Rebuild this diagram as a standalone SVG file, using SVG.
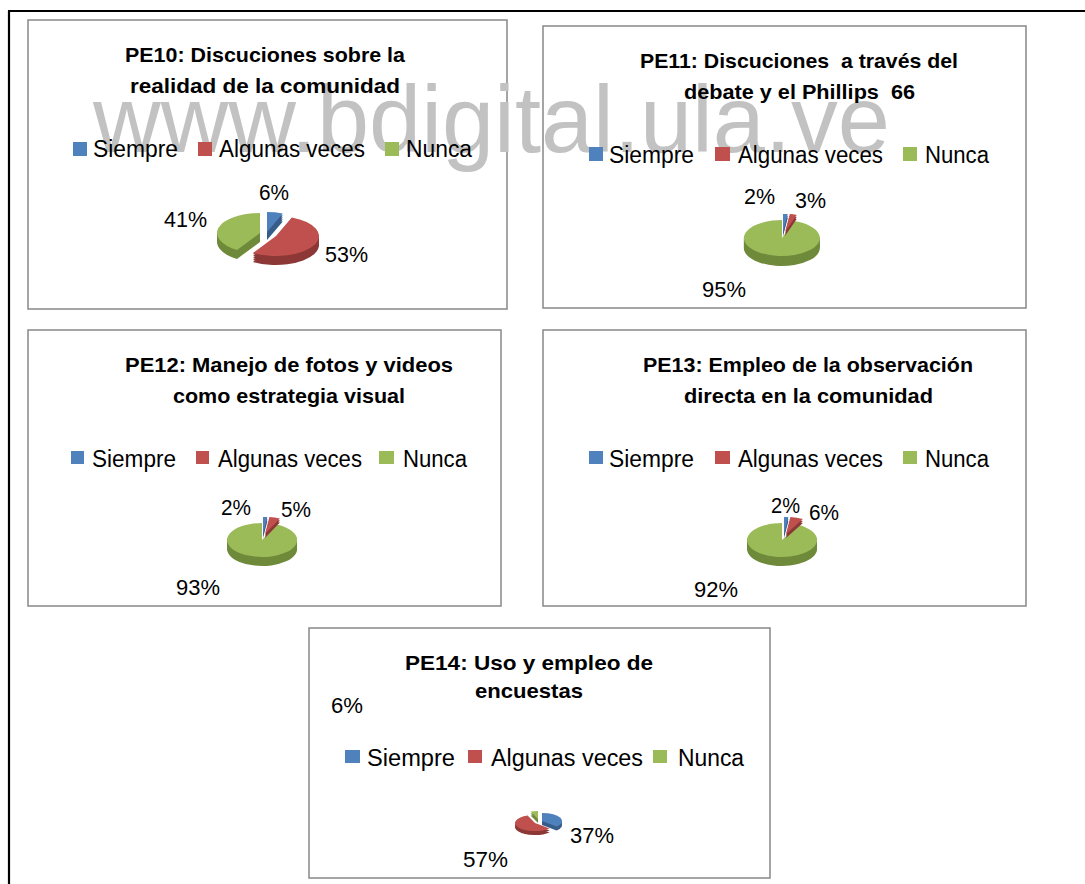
<svg xmlns="http://www.w3.org/2000/svg" xmlns:xlink="http://www.w3.org/1999/xlink" width="1085" height="884" viewBox="0 0 1085 884">
<style>
.panel{fill:#ffffff;stroke:#8f8f8f;stroke-width:1.6}
.frame{stroke:#000000;stroke-width:2.2;fill:none}
.wm{font-family:"Liberation Sans",Arial,sans-serif;font-size:94px;fill:#c2c2c2}
.title{font-family:"Liberation Sans",Arial,sans-serif;font-size:21px;font-weight:bold;fill:#000000}
.leg{font-family:"Liberation Sans",Arial,sans-serif;font-size:23px;fill:#000000}
.pct{font-family:"Liberation Sans",Arial,sans-serif;font-size:22px;fill:#000000}
.bt{fill:#4F81BD}.bs{fill:#385D8A}
.rt{fill:#C0504D}.rs{fill:#8C3836}
.gt{fill:#9BBB59}.gs{fill:#6E8A3A}
</style>
<defs>
<path id="p10b" d="M267,232 L267,212 A43,20 0 0 1 282.8,213.4 Z"/>
<path id="p10g" d="M260,233 L237,249.9 A43,20 0 0 1 260,213 Z"/>
<path id="p10r" d="M276,236 L291.8,217.4 A43,20 0 1 1 253,252.9 Z"/>
<path id="p11g" d="M782,238 L793.7,220.9 A38,18 0 1 1 782,220 Z"/>
<path id="p11b" d="M783,232 L783,214 A38,18 0 0 1 787.8,214.1 Z"/>
<path id="p11r" d="M785,232 L789.8,214.1 A38,18 0 0 1 796.7,214.9 Z"/>
<path id="p12g" d="M262,540 L276.9,524.6 A35,17 0 1 1 262,523 Z"/>
<path id="p12b" d="M263,534 L263,517 A35,17 0 0 1 267.4,517.1 Z"/>
<path id="p12r" d="M265,534 L269.4,517.1 A35,17 0 0 1 279.9,518.6 Z"/>
<path id="p13g" d="M782,540 L798.9,525.1 A35,17 0 1 1 782,523 Z"/>
<path id="p13b" d="M784,534 L784,517 A35,17 0 0 1 788.4,517.1 Z"/>
<path id="p13r" d="M786,534 L790.4,517.1 A35,17 0 0 1 802.9,519.1 Z"/>
<path id="p14g" d="M538,819 L530.6,811.6 A20,8 0 0 1 538,811 Z"/>
<path id="p14b" d="M542,821 L542,813 A20,8 0 0 1 556.6,826.5 Z"/>
<path id="p14r" d="M535,823 L549.6,828.5 A20,8 0 1 1 527.6,815.6 Z"/>
</defs>

<rect width="1085" height="884" fill="#ffffff"/>

<g id="frame">
<line class="frame" x1="8" y1="11" x2="1085" y2="11"/>
<line class="frame" x1="9" y1="11" x2="9" y2="884"/>
</g>

<g id="panels">
<rect class="panel" x="28" y="20" width="479" height="289"/>
<rect class="panel" x="543" y="26" width="483" height="282"/>
<rect class="panel" x="28" y="330" width="473" height="276"/>
<rect class="panel" x="543" y="330" width="483" height="276"/>
<rect class="panel" x="309" y="628" width="461" height="250"/>
</g>

<g id="watermark">
<text class="wm" x="93" y="152" textLength="797" lengthAdjust="spacingAndGlyphs">www.bdigital.ula.ve</text>
</g>

<g id="connectors"/>

<g id="pe10">
<text class="title" x="125" y="62" textLength="280" lengthAdjust="spacingAndGlyphs">PE10: Discuciones sobre la</text>
<text class="title" x="130" y="93" textLength="270" lengthAdjust="spacingAndGlyphs">realidad de la comunidad</text>
<rect class="bt" x="73" y="142" width="14" height="14"/>
<text class="leg" x="93" y="157" textLength="85" lengthAdjust="spacingAndGlyphs">Siempre</text>
<rect class="rt" x="198" y="142" width="14" height="14"/>
<text class="leg" x="219" y="157" textLength="146" lengthAdjust="spacingAndGlyphs">Algunas veces</text>
<rect class="gt" x="385" y="142" width="14" height="14"/>
<text class="leg" x="406" y="157" textLength="66" lengthAdjust="spacingAndGlyphs">Nunca</text>
<g class="bs"><use xlink:href="#p10b" href="#p10b" transform="translate(0,8)"/><use xlink:href="#p10b" href="#p10b" transform="translate(0,6)"/><use xlink:href="#p10b" href="#p10b" transform="translate(0,4)"/><use xlink:href="#p10b" href="#p10b" transform="translate(0,2)"/></g>
<use class="bt" xlink:href="#p10b" href="#p10b"/>
<g class="gs"><use xlink:href="#p10g" href="#p10g" transform="translate(0,9)"/><use xlink:href="#p10g" href="#p10g" transform="translate(0,7)"/><use xlink:href="#p10g" href="#p10g" transform="translate(0,5)"/><use xlink:href="#p10g" href="#p10g" transform="translate(0,3)"/><use xlink:href="#p10g" href="#p10g" transform="translate(0,1)"/></g>
<use class="gt" xlink:href="#p10g" href="#p10g"/>
<g class="rs"><use xlink:href="#p10r" href="#p10r" transform="translate(0,9)"/><use xlink:href="#p10r" href="#p10r" transform="translate(0,7)"/><use xlink:href="#p10r" href="#p10r" transform="translate(0,5)"/><use xlink:href="#p10r" href="#p10r" transform="translate(0,3)"/><use xlink:href="#p10r" href="#p10r" transform="translate(0,1)"/></g>
<use class="rt" xlink:href="#p10r" href="#p10r"/>
<text class="pct" x="259" y="200" textLength="30" lengthAdjust="spacingAndGlyphs">6%</text>
<text class="pct" x="164" y="227" textLength="43" lengthAdjust="spacingAndGlyphs">41%</text>
<text class="pct" x="325" y="262" textLength="43" lengthAdjust="spacingAndGlyphs">53%</text>
</g>

<g id="pe11">
<text class="title" x="640" y="68" textLength="318" lengthAdjust="spacingAndGlyphs" xml:space="preserve">PE11: Discuciones  a través del</text>
<text class="title" x="684" y="99" textLength="231" lengthAdjust="spacingAndGlyphs" xml:space="preserve">debate y el Phillips  66</text>
<rect class="bt" x="589" y="147" width="14" height="14"/>
<text class="leg" x="609" y="163" textLength="85" lengthAdjust="spacingAndGlyphs">Siempre</text>
<rect class="rt" x="715" y="147" width="15" height="14"/>
<text class="leg" x="738" y="163" textLength="145" lengthAdjust="spacingAndGlyphs">Algunas veces</text>
<rect class="gt" x="903" y="147" width="14" height="14"/>
<text class="leg" x="925" y="163" textLength="64" lengthAdjust="spacingAndGlyphs">Nunca</text>
<g class="gs"><use xlink:href="#p11g" href="#p11g" transform="translate(0,10)"/><use xlink:href="#p11g" href="#p11g" transform="translate(0,8)"/><use xlink:href="#p11g" href="#p11g" transform="translate(0,6)"/><use xlink:href="#p11g" href="#p11g" transform="translate(0,4)"/><use xlink:href="#p11g" href="#p11g" transform="translate(0,2)"/></g>
<use class="gt" xlink:href="#p11g" href="#p11g"/>
<g class="bs"><use xlink:href="#p11b" href="#p11b" transform="translate(0,4)"/><use xlink:href="#p11b" href="#p11b" transform="translate(0,2)"/></g>
<use class="bt" xlink:href="#p11b" href="#p11b"/>
<g class="rs"><use xlink:href="#p11r" href="#p11r" transform="translate(0,4)"/><use xlink:href="#p11r" href="#p11r" transform="translate(0,2)"/></g>
<use class="rt" xlink:href="#p11r" href="#p11r"/>
<text class="pct" x="744" y="204" textLength="31" lengthAdjust="spacingAndGlyphs">2%</text>
<text class="pct" x="795" y="208" textLength="31" lengthAdjust="spacingAndGlyphs">3%</text>
<text class="pct" x="702" y="297" textLength="44" lengthAdjust="spacingAndGlyphs">95%</text>
</g>

<g id="pe12">
<text class="title" x="125" y="372" textLength="328" lengthAdjust="spacingAndGlyphs">PE12: Manejo de fotos y videos</text>
<text class="title" x="173" y="403" textLength="232" lengthAdjust="spacingAndGlyphs">como estrategia visual</text>
<rect class="bt" x="71" y="451" width="13" height="13"/>
<text class="leg" x="92" y="467" textLength="84" lengthAdjust="spacingAndGlyphs">Siempre</text>
<rect class="rt" x="196" y="451" width="13" height="13"/>
<text class="leg" x="218" y="467" textLength="144" lengthAdjust="spacingAndGlyphs">Algunas veces</text>
<rect class="gt" x="379" y="451" width="15" height="13"/>
<text class="leg" x="403" y="467" textLength="64" lengthAdjust="spacingAndGlyphs">Nunca</text>
<g class="gs"><use xlink:href="#p12g" href="#p12g" transform="translate(0,9)"/><use xlink:href="#p12g" href="#p12g" transform="translate(0,7)"/><use xlink:href="#p12g" href="#p12g" transform="translate(0,5)"/><use xlink:href="#p12g" href="#p12g" transform="translate(0,3)"/><use xlink:href="#p12g" href="#p12g" transform="translate(0,1)"/></g>
<use class="gt" xlink:href="#p12g" href="#p12g"/>
<g class="bs"><use xlink:href="#p12b" href="#p12b" transform="translate(0,4)"/><use xlink:href="#p12b" href="#p12b" transform="translate(0,2)"/></g>
<use class="bt" xlink:href="#p12b" href="#p12b"/>
<g class="rs"><use xlink:href="#p12r" href="#p12r" transform="translate(0,4)"/><use xlink:href="#p12r" href="#p12r" transform="translate(0,2)"/></g>
<use class="rt" xlink:href="#p12r" href="#p12r"/>
<text class="pct" x="221" y="515" textLength="30" lengthAdjust="spacingAndGlyphs">2%</text>
<text class="pct" x="281" y="517" textLength="30" lengthAdjust="spacingAndGlyphs">5%</text>
<text class="pct" x="176" y="595" textLength="44" lengthAdjust="spacingAndGlyphs">93%</text>
</g>

<g id="pe13">
<text class="title" x="643" y="372" textLength="330" lengthAdjust="spacingAndGlyphs">PE13: Empleo de la observación</text>
<text class="title" x="684" y="403" textLength="249" lengthAdjust="spacingAndGlyphs">directa en la comunidad</text>
<rect class="bt" x="589" y="451" width="14" height="13"/>
<text class="leg" x="609" y="467" textLength="85" lengthAdjust="spacingAndGlyphs">Siempre</text>
<rect class="rt" x="715" y="451" width="15" height="13"/>
<text class="leg" x="738" y="467" textLength="145" lengthAdjust="spacingAndGlyphs">Algunas veces</text>
<rect class="gt" x="903" y="451" width="14" height="13"/>
<text class="leg" x="925" y="467" textLength="64" lengthAdjust="spacingAndGlyphs">Nunca</text>
<g class="gs"><use xlink:href="#p13g" href="#p13g" transform="translate(0,9)"/><use xlink:href="#p13g" href="#p13g" transform="translate(0,7)"/><use xlink:href="#p13g" href="#p13g" transform="translate(0,5)"/><use xlink:href="#p13g" href="#p13g" transform="translate(0,3)"/><use xlink:href="#p13g" href="#p13g" transform="translate(0,1)"/></g>
<use class="gt" xlink:href="#p13g" href="#p13g"/>
<g class="bs"><use xlink:href="#p13b" href="#p13b" transform="translate(0,4)"/><use xlink:href="#p13b" href="#p13b" transform="translate(0,2)"/></g>
<use class="bt" xlink:href="#p13b" href="#p13b"/>
<g class="rs"><use xlink:href="#p13r" href="#p13r" transform="translate(0,4)"/><use xlink:href="#p13r" href="#p13r" transform="translate(0,2)"/></g>
<use class="rt" xlink:href="#p13r" href="#p13r"/>
<text class="pct" x="771" y="513" textLength="29" lengthAdjust="spacingAndGlyphs">2%</text>
<text class="pct" x="809" y="520" textLength="30" lengthAdjust="spacingAndGlyphs">6%</text>
<text class="pct" x="694" y="597" textLength="44" lengthAdjust="spacingAndGlyphs">92%</text>
</g>

<g id="pe14">
<text class="title" x="405" y="670" textLength="248" lengthAdjust="spacingAndGlyphs">PE14: Uso y empleo de</text>
<text class="title" x="475" y="698" textLength="108" lengthAdjust="spacingAndGlyphs">encuestas</text>
<text class="pct" x="331" y="713" textLength="32" lengthAdjust="spacingAndGlyphs">6%</text>
<rect class="bt" x="345" y="750" width="15" height="13"/>
<text class="leg" x="367" y="766" textLength="88" lengthAdjust="spacingAndGlyphs">Siempre</text>
<rect class="rt" x="468" y="750" width="14" height="13"/>
<text class="leg" x="491" y="766" textLength="152" lengthAdjust="spacingAndGlyphs">Algunas veces</text>
<rect class="gt" x="653" y="750" width="14" height="13"/>
<text class="leg" x="678" y="766" textLength="66" lengthAdjust="spacingAndGlyphs">Nunca</text>
<g class="gs"><use xlink:href="#p14g" href="#p14g" transform="translate(0,4)"/><use xlink:href="#p14g" href="#p14g" transform="translate(0,2)"/></g>
<use class="gt" xlink:href="#p14g" href="#p14g"/>
<g class="bs"><use xlink:href="#p14b" href="#p14b" transform="translate(0,4)"/><use xlink:href="#p14b" href="#p14b" transform="translate(0,2)"/></g>
<use class="bt" xlink:href="#p14b" href="#p14b"/>
<g class="rs"><use xlink:href="#p14r" href="#p14r" transform="translate(0,4)"/><use xlink:href="#p14r" href="#p14r" transform="translate(0,2)"/></g>
<use class="rt" xlink:href="#p14r" href="#p14r"/>
<text class="pct" x="570" y="843" textLength="44" lengthAdjust="spacingAndGlyphs">37%</text>
<text class="pct" x="463" y="867" textLength="45" lengthAdjust="spacingAndGlyphs">57%</text>
</g>
</svg>
